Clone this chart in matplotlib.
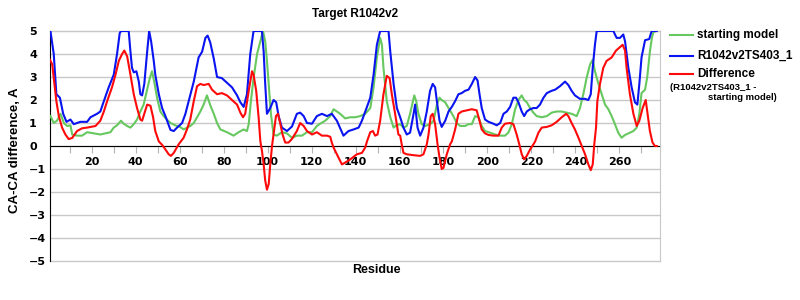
import matplotlib
matplotlib.use('Agg')
import matplotlib.pyplot as plt
from matplotlib.lines import Line2D

plt.rcParams['font.family'] = ['Liberation Sans', 'DejaVu Sans']

# starting model (green)
start_res = [1.2, 2.7, 4.2, 5.8, 7.3, 8.8, 10.3, 11.1, 13.3, 15.6, 17.9, 20.9, 23.9, 26.2, 28.5, 30.0,
             31.5, 33.3, 34.5, 36.1, 37.6, 39.1, 40.6, 42.1, 43.6, 45.2, 46.4, 47.4, 48.5, 49.7, 51.2,
             52.7, 54.2, 55.8, 58.0, 60.3, 61.8, 63.3, 64.8, 66.4, 67.9, 69.4, 70.9, 72.4, 74.0, 75.5,
             77.0, 78.5, 81.5, 84.5, 86.8, 89.1, 90.6, 91.4, 92.4, 93.6, 95.2, 96.7, 97.9, 98.9, 99.7,
             100.5, 101.5, 102.7, 104.2, 106.5, 108.8, 111.1, 113.3, 115.6, 117.9, 120.2, 122.4, 123.9,
             126.2, 128.5, 130.0, 131.5, 133.0, 135.3, 137.6, 139.8, 142.1, 144.4, 146.7, 148.2, 149.7,
             151.2, 152.0, 152.7, 154.2, 155.8, 157.3, 158.5, 160.3, 161.8, 163.3, 164.8, 166.7, 167.6,
             168.6, 170.1, 171.7, 173.9, 175.5, 177.0, 178.2, 179.2, 180.8, 182.3, 184.5, 186.0, 187.6,
             189.8, 191.4, 192.9, 194.4, 195.9, 197.4, 198.9, 201.2, 203.5, 205.8, 208.0, 209.5, 211.1,
             212.6, 214.1, 215.6, 216.7, 217.9, 219.4, 220.9, 222.4, 224.7, 227.0, 229.2, 231.5, 233.8,
             236.1, 238.3, 240.6, 242.1, 243.6, 245.2, 246.7, 247.9, 248.9, 250.5, 252.0, 253.5, 255.0,
             256.5, 258.0, 259.5, 261.0, 262.6, 264.8, 266.4, 267.9, 269.1, 270.1, 271.7, 272.7, 273.9,
             274.8, 275.5, 277.0]
start_val = [1.3, 1.0, 1.1, 1.4, 1.0, 0.87, 0.9, 0.5, 0.45, 0.45, 0.6, 0.55, 0.5, 0.55, 0.6, 0.8,
             0.9, 1.1, 0.97, 0.87, 0.8, 0.95, 1.15, 1.5, 1.8, 2.45, 2.95, 3.25, 2.75, 2.1, 1.5,
             1.3, 1.15, 1.0, 0.9, 0.82, 0.72, 0.8, 0.87, 1.0, 1.25, 1.5, 1.8, 2.2, 1.75, 1.4,
             1.0, 0.72, 0.6, 0.45, 0.6, 0.72, 0.65, 0.95, 1.95, 2.95, 4.0, 4.55, 5.0, 4.55, 3.7,
             2.7, 1.4, 0.5, 0.45, 0.6, 0.55, 0.35, 0.45, 0.45, 0.6, 0.6, 0.87, 0.97,
             1.1, 1.3, 1.6, 1.5, 1.4, 1.2, 1.25, 1.25, 1.3, 1.4, 1.65, 2.55, 3.85,
             4.7, 4.4, 3.4, 1.95, 1.25, 0.8, 0.9, 0.95, 0.8, 0.87, 1.4, 2.2, 1.95,
             1.4, 0.95, 0.87, 0.95, 1.1, 1.8, 2.1, 2.0, 1.9, 1.65, 1.3, 1.0, 0.87,
             0.87, 0.95, 0.95, 1.3, 1.25, 0.87, 0.65, 0.58, 0.5, 0.45, 0.45, 0.58, 0.95,
             1.6, 2.0, 2.2, 2.0, 1.9, 1.65, 1.45, 1.3, 1.25, 1.3, 1.45, 1.5, 1.5,
             1.45, 1.4, 1.3, 1.65, 2.25, 3.0, 3.55, 3.75, 3.25, 2.7, 2.25, 1.8, 1.6,
             1.3, 0.95, 0.58, 0.36, 0.48, 0.58, 0.65, 0.8, 1.4, 2.3, 2.45, 3.0, 4.1,
             4.7, 4.95, 5.0]

# R1042v2TS403_1 (blue)
model_res = [1.2, 2.7, 3.9, 5.5, 7.0, 8.5, 10.3, 11.8, 14.8, 17.9, 19.4, 22.4, 23.9, 25.5, 27.7, 30.0,
             31.5, 32.7, 33.3, 36.8, 37.6, 38.3, 39.1, 40.3, 41.4, 42.1, 42.9, 43.9, 45.2, 46.1, 47.0,
             48.2, 48.9, 50.5, 52.0, 53.5, 55.8, 57.3, 58.8, 61.1, 62.6, 64.1, 66.4, 68.6, 70.2, 71.7,
             72.7, 73.9, 75.5, 77.0, 79.2, 81.5, 83.8, 86.1, 87.6, 89.1, 90.6, 92.1, 93.6, 97.4, 98.2,
             98.9, 99.7, 101.2, 102.7, 103.9, 105.0, 106.5, 108.8, 111.1, 113.3, 114.8, 116.4, 117.9,
             120.2, 122.4, 124.7, 127.0, 129.2, 131.5, 134.5, 136.8, 139.1, 141.4, 142.9, 144.4, 146.7,
             148.2, 149.7, 151.2, 155.0, 155.8, 157.3, 158.8, 160.3, 161.8, 163.3, 164.8, 166.4, 167.1,
             168.2, 169.4, 170.9, 172.4, 173.9, 175.1, 176.2, 177.0, 178.2, 179.2, 180.8, 182.3, 183.8,
             185.3, 186.8, 188.3, 189.8, 191.4, 192.9, 194.4, 195.5, 196.4, 197.4, 198.9, 200.5, 202.7,
             204.2, 205.8, 207.3, 208.8, 210.3, 211.8, 213.0, 214.1, 215.6, 216.7, 217.9, 219.4, 220.9,
             222.4, 223.9, 225.5, 227.0, 229.2, 230.8, 233.0, 235.3, 236.8, 238.3, 239.8, 242.1, 244.4,
             245.9, 247.0, 247.9, 248.9, 249.7, 257.3, 258.0, 258.8, 260.3, 261.8, 262.6, 264.1, 265.6,
             267.1, 268.2, 269.1, 270.1, 271.7, 273.6, 274.7, 277.0]
model_val = [5.0, 4.0, 2.25, 2.1, 1.4, 1.05, 1.15, 0.95, 1.05, 1.05, 1.25, 1.4, 1.5, 1.95, 2.55, 3.1,
             4.0, 4.9, 5.0, 5.0, 4.1, 3.4, 3.2, 3.25, 2.8, 2.25, 2.2, 2.7, 4.1, 5.0, 4.55,
             3.7, 3.1, 2.25, 1.65, 1.3, 0.7, 0.65, 0.8, 1.0, 1.4, 1.95, 2.8, 3.85, 4.1, 4.7,
             4.8, 4.5, 3.8, 3.0, 2.95, 2.75, 2.55, 2.2, 1.9, 1.7, 2.25, 4.0, 5.0, 5.0, 4.1,
             2.7, 1.4, 1.65, 2.0, 1.9, 1.3, 0.8, 0.65, 0.85, 1.4, 1.45, 1.3, 1.0,
             0.97, 1.3, 1.4, 1.3, 1.4, 1.1, 0.45, 0.65, 0.72, 0.8, 1.1, 1.5, 2.1,
             3.1, 4.4, 5.0, 5.0, 4.1, 2.7, 1.65, 1.25, 0.8, 0.5, 0.58, 1.4, 1.8,
             0.8, 0.45, 0.8, 1.5, 2.4, 2.7, 2.55, 1.95, 1.1, 0.83, 1.1, 1.5, 1.7,
             1.95, 2.25, 2.3, 2.4, 2.45, 2.7, 3.0, 2.85, 2.25, 1.65, 1.15, 1.05, 0.97,
             0.9, 1.0, 1.4, 1.5, 1.7, 2.1, 2.1, 1.9, 1.5, 1.3, 1.5, 1.6, 1.65,
             1.65, 1.8, 2.1, 2.3, 2.4, 2.45, 2.6, 2.8, 2.65, 2.4, 2.2, 2.05, 2.05,
             2.0, 2.25, 3.4, 4.4, 5.0, 5.0, 4.85, 4.7, 4.7, 4.85, 4.55, 3.4, 2.55,
             1.9, 1.8, 2.7, 3.85, 4.6, 4.65, 5.0, 5.0]

# Difference (red)
diff_res = [1.0, 2.0, 2.7, 3.9, 5.0, 6.5, 8.0, 9.5, 11.1, 13.3, 15.6, 17.9, 21.7, 23.9, 25.5, 27.0,
            29.2, 30.8, 32.3, 33.8, 34.8, 36.1, 37.6, 39.1, 40.6, 42.1, 42.9, 43.9, 45.2, 46.7, 47.9,
            48.9, 50.5, 52.0, 53.5, 55.0, 56.0, 57.3, 59.5, 61.8, 63.3, 64.8, 66.4, 67.9, 69.4, 70.9,
            73.2, 74.7, 77.0, 79.2, 81.5, 83.8, 86.1, 87.6, 88.8, 89.8, 91.4, 92.9, 93.6, 94.8, 95.9,
            96.7, 97.4, 98.2, 98.9, 99.7, 100.5, 101.2, 102.0, 102.7, 103.8, 104.7, 105.8, 106.8, 108.0,
            109.5, 111.0, 113.3, 114.8, 116.4, 117.9, 120.2, 122.4, 124.7, 127.0, 128.5, 129.2, 130.0,
            131.5, 133.0, 133.8, 135.3, 137.6, 140.6, 142.9, 144.4, 145.2, 146.7, 147.9, 148.9, 150.0,
            151.2, 152.7, 154.2, 155.5, 156.5, 158.0, 159.5, 160.3, 161.0, 161.8, 163.3, 166.4, 169.4,
            170.9, 172.4, 173.2, 174.2, 175.1, 176.2, 177.3, 178.2, 179.2, 180.0, 181.5, 183.0, 183.8,
            185.3, 186.8, 188.3, 190.6, 192.9, 195.1, 196.4, 197.4, 198.9, 200.5, 202.7, 205.0, 206.5,
            208.0, 210.3, 211.8, 213.3, 214.5, 215.6, 216.7, 217.9, 219.4, 220.9, 221.7, 223.2, 224.7,
            227.0, 229.2, 231.5, 233.8, 235.8, 236.8, 238.3, 239.8, 241.4, 242.9, 244.4, 245.9, 247.0,
            247.9, 248.6, 249.4, 250.0, 251.2, 252.7, 254.2, 256.5, 258.5, 260.3, 261.5, 262.6, 263.3,
            264.8, 266.4, 267.9, 269.1, 270.6, 272.0, 272.7, 273.9, 275.1, 276.2, 277.0]
diff_val = [3.75, 3.55, 2.95, 1.95, 1.3, 0.8, 0.5, 0.3, 0.35, 0.65, 0.77, 0.8, 0.87, 1.1, 1.5, 1.95,
            2.55, 3.1, 3.7, 4.0, 4.15, 3.9, 3.1, 2.25, 1.65, 1.15, 1.1, 1.4, 1.8, 1.75, 1.25,
            0.65, 0.2, 0.05, -0.15, -0.36, -0.43, -0.3, 0.07, 0.36, 0.72, 1.15, 1.95, 2.6, 2.7, 2.65,
            2.7, 2.45, 2.25, 2.3, 2.2, 2.0, 1.8, 1.45, 1.25, 1.4, 2.4, 3.25, 3.1, 2.4, 1.25,
            0.2, -0.2, -0.8, -1.5, -1.9, -1.65, -0.8, 0.0, 0.5, 1.3, 1.4, 0.95, 0.5, 0.15,
            0.15, 0.3, 0.65, 1.0, 0.87, 0.65, 0.5, 0.6, 0.45, 0.45, 0.4, 0.15, -0.07,
            -0.36, -0.65, -0.8, -0.72, -0.58, -0.36, -0.3, -0.07, 0.2, 0.6, 0.65, 0.45, 0.5,
            1.1, 2.25, 3.05, 2.95, 2.25, 1.4, 0.5, 0.45, 0.07, -0.3, -0.36, -0.4, -0.43,
            -0.36, 0.07, 0.5, 1.3, 1.4, 0.95, 0.07, -0.5, -1.0, -0.95, -0.36, 0.07, 0.2,
            0.72, 1.4, 1.5, 1.55, 1.6, 1.55, 1.1, 0.72, 0.55, 0.48, 0.45, 0.45, 0.8,
            0.97, 1.0, 0.95, 0.5, 0.07, -0.36, -0.58, -0.43, -0.15, 0.07, 0.2, 0.58, 0.8,
            0.83, 0.9, 1.05, 1.25, 1.4, 1.3, 1.0, 0.72, 0.36, 0.0, -0.36, -0.8, -1.05,
            -0.8, 0.07, 0.8, 1.95, 2.7, 3.4, 3.7, 3.85, 4.15, 4.3, 4.4, 4.15, 3.4,
            2.25, 1.4, 0.87, 1.1, 1.65, 2.0, 1.5, 0.65, 0.15, 0.0, 0.0]

green = '#66c85f'
blue = '#0a14f0'
red = '#ff0a0a'
grid_gray = '#c8c8c8'
bold = 'bold'

fig = plt.figure(figsize=(8, 3), dpi=100)
ax = fig.add_axes([50 / 800, 1 - 261 / 300, 610 / 800, 230 / 300])

for y in range(-5, 6):
    ax.axhline(y, color=grid_gray, lw=1, zorder=0, clip_on=False)

ax.plot(start_res, start_val, color=green, lw=1.5, zorder=3)
ax.plot(model_res, model_val, color=blue, lw=1.5, zorder=4)
ax.plot(diff_res, diff_val, color=red, lw=1.5, zorder=5)

ax.set_xlim(1, 278.5)
ax.set_ylim(-5, 5)

ax.spines['bottom'].set_position(('data', 0))
ax.spines['bottom'].set_color('black')
ax.spines['bottom'].set_zorder(2)
ax.spines['left'].set_color('black')
ax.spines['top'].set_color(grid_gray)
ax.spines['right'].set_color(grid_gray)

xt = list(range(10, 271, 10))
ax.set_xticks(xt)
ax.set_xticklabels([str(t) if t % 20 == 0 else '' for t in xt],
                   fontsize=8, fontweight=bold, family='DejaVu Sans')
ax.tick_params(axis='x', direction='out', length=5, color='#b4b4b4', pad=3)

ax.set_yticks(range(-5, 6))
ax.set_yticklabels([str(t) if t >= 0 else '\u2212' + str(-t) for t in range(-5, 6)],
                   fontsize=8, fontweight=bold, family='DejaVu Sans')
ax.tick_params(axis='y', length=0, pad=15)
for lab in ax.get_yticklabels():
    lab.set_horizontalalignment('left')

fig.text(355 / 800, 1 - 14 / 300, 'Target R1042v2', ha='center', va='center',
         fontsize=8.5, fontweight=bold)
fig.text(376 / 800, 1 - 270 / 300, 'Residue', ha='center', va='center',
         fontsize=9, fontweight=bold)
fig.text(15 / 800, 1 - 150 / 300, 'CA-CA difference, A', ha='center', va='center',
         rotation=90, fontsize=9.5, fontweight=bold)

# legend
leg = [(green, 'starting model', 35), (blue, 'R1042v2TS403_1', 56), (red, 'Difference', 74)]
for col, name, yy in leg:
    fig.add_artist(Line2D([670 / 800, 693 / 800], [1 - yy / 300] * 2, color=col, lw=1.5))
    fig.text(697 / 800, 1 - yy / 300, name, ha='left', va='center',
             fontsize=8.5, fontweight=bold)
fig.text(670 / 800, 1 - 87 / 300, '(R1042v2TS403_1 -', ha='left', va='center',
         fontsize=6.8, fontweight=bold)
fig.text(777 / 800, 1 - 98 / 300, 'starting model)', ha='right', va='center',
         fontsize=6.8, fontweight=bold)

fig.savefig('out.png', dpi=100)
